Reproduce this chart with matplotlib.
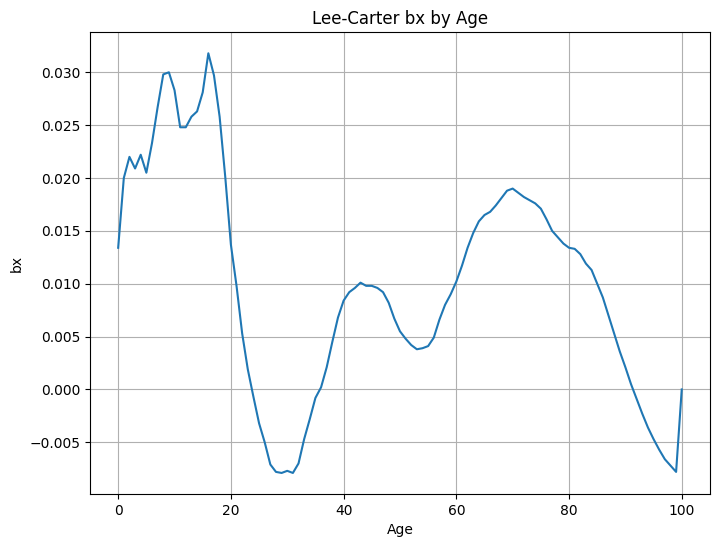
import numpy as np
import matplotlib.pyplot as plt

# bx values per age
ages = np.arange(0, 101)
bx = [
    0.0134, 0.0200, 0.0220, 0.0209, 0.0222, 0.0205, 0.0233, 0.0267, 0.0298, 0.0300,
    0.0283, 0.0248, 0.0248, 0.0258, 0.0263, 0.0281, 0.0318, 0.0297, 0.0258, 0.0201,
    0.0137, 0.0098, 0.0053, 0.0019, -0.0007, -0.0032, -0.0050, -0.0071, -0.0078, -0.0079,
    -0.0077, -0.0079, -0.0070, -0.0047, -0.0028, -0.0008, 0.0002, 0.0021, 0.0045, 0.0068,
    0.0084, 0.0092, 0.0096, 0.0101, 0.0098, 0.0098, 0.0096, 0.0092, 0.0082, 0.0067,
    0.0055, 0.0048, 0.0042, 0.0038, 0.0039, 0.0041, 0.0049, 0.0066, 0.0080, 0.0090,
    0.0102, 0.0117, 0.0134, 0.0148, 0.0159, 0.0165, 0.0168, 0.0174, 0.0181, 0.0188,
    0.0190, 0.0186, 0.0182, 0.0179, 0.0176, 0.0171, 0.0161, 0.0150, 0.0144, 0.0138,
    0.0134, 0.0133, 0.0128, 0.0119, 0.0113, 0.0100, 0.0087, 0.0070, 0.0053, 0.0036,
    0.0021, 0.0005, -0.0009, -0.0023, -0.0036, -0.0047, -0.0057, -0.0066, -0.0072, -0.0078,
    0.0000,
]

fig = plt.figure(figsize=(7.2, 5.47), dpi=100)
ax = fig.add_axes([0.125, 0.097, 0.861, 0.844])
ax.plot(ages, bx)
ax.set_title('Lee-Carter bx by Age')
ax.set_xlabel('Age')
ax.set_ylabel('bx')
ax.grid(True)
fig.savefig('out.png', dpi=100)
